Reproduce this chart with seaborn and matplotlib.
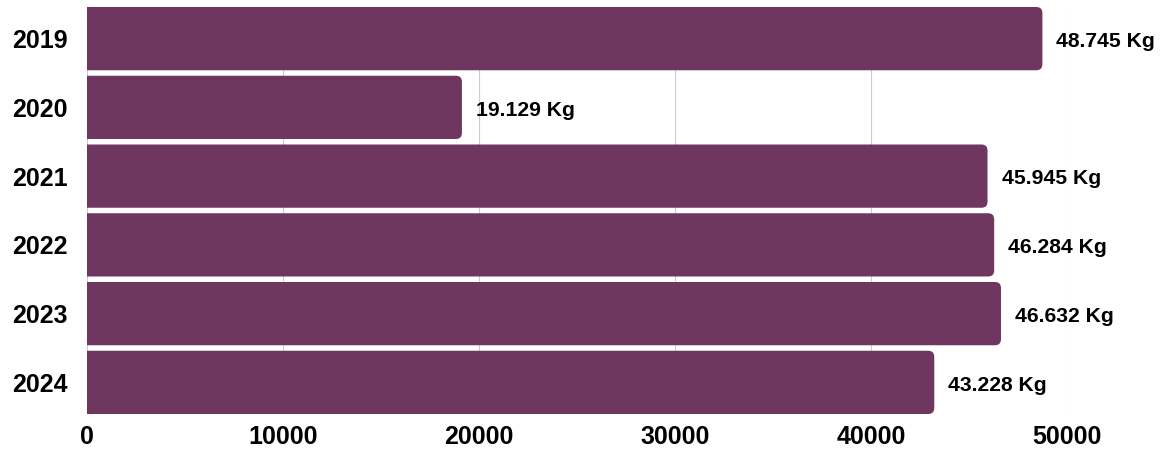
import matplotlib
matplotlib.use("Agg")
import matplotlib.pyplot as plt
from matplotlib.patches import FancyBboxPatch
import seaborn as sns
import pandas as pd

years = ["2019", "2020", "2021", "2022", "2023", "2024"]
weights = [48745, 19129, 45945, 46284, 46632, 43228]
labels = ["48.745 Kg", "19.129 Kg", "45.945 Kg", "46.284 Kg", "46.632 Kg", "43.228 Kg"]

bar_color = "#6f365f"

sns.set_theme(style="whitegrid")
plt.rcParams['font.family'] = ['Liberation Sans', 'DejaVu Sans']

df = pd.DataFrame({"year": years, "kg": weights})

fig = plt.figure(figsize=(11.7, 4.51), dpi=100)
ax = fig.add_axes([87 / 1170, 37 / 451, (1067 - 87) / 1170, (444 - 37) / 451])

sns.barplot(data=df, y="year", x="kg", color=bar_color, width=0.92,
            saturation=1, ax=ax, orient="h")

ax.set_xlim(0, 50000)
ax.set_ylim(5.46, -0.46)

# rounded right corners: replace bars with fancy boxes starting left of the axis
x_per_px = 50000 / 980
y_per_px = 5.92 / 407
for p in list(ax.patches):
    x0, y0 = p.get_x(), p.get_y()
    w, h = p.get_width(), p.get_height()
    p.remove()
    box = FancyBboxPatch((x0 - 600, y0), w + 600, h,
                         boxstyle=f"round,pad=0,rounding_size={6 * x_per_px}",
                         mutation_aspect=y_per_px / x_per_px,
                         facecolor=bar_color, edgecolor="none", zorder=2)
    ax.add_patch(box)

for i, (v, lab) in enumerate(zip(weights, labels)):
    ax.text(v + 14 * x_per_px, i + 0.04, lab, va="center", ha="left",
            fontsize=15.2, fontweight="bold", color="black", clip_on=False)

ax.set_xticks([0, 10000, 20000, 30000, 40000, 50000])
ax.set_xticklabels(["0", "10000", "20000", "30000", "40000", "50000"])
ax.tick_params(axis="x", length=0, pad=8, labelsize=18)
ax.tick_params(axis="y", length=0, pad=14, labelsize=18)
for t in ax.get_xticklabels() + ax.get_yticklabels():
    t.set_fontweight("bold")
    t.set_color("black")

ax.grid(axis="y", visible=False)
ax.grid(axis="x", color="#cccccc", linewidth=0.8)
ax.set_axisbelow(True)
for s in ax.spines.values():
    s.set_visible(False)
ax.set_xlabel("")
ax.set_ylabel("")

fig.savefig("out.png", dpi=100)
